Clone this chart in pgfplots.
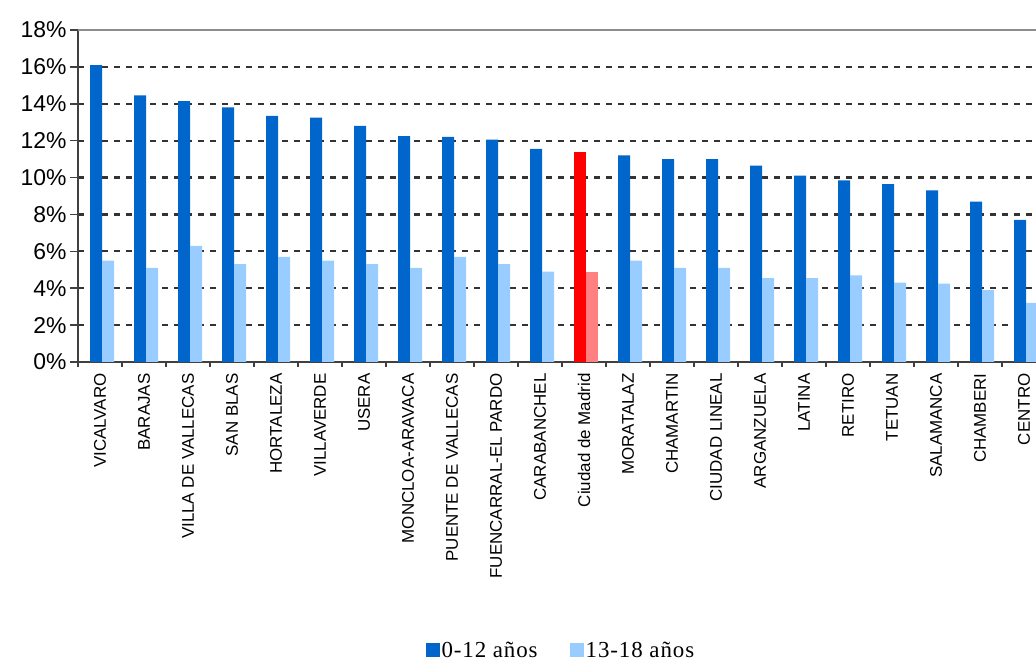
\documentclass[border=0pt]{standalone}
\usepackage{fontspec}
\setmainfont{Liberation Sans}
\newfontfamily\legfont[LetterSpace=4]{Liberation Serif}
\usepackage{pgfplots}
\pgfplotsset{compat=1.18}
\definecolor{dblue}{RGB}{0,102,204}
\definecolor{lblue}{RGB}{153,204,255}
\definecolor{dred}{RGB}{255,0,0}
\definecolor{lred}{RGB}{255,128,128}
\begin{document}
\begin{tikzpicture}[x=1bp,y=1bp]
\path[use as bounding box] (0,0) rectangle (1036,666);
\begin{axis}[at={(78bp,304bp)}, anchor=south west,
  scale only axis, width=958bp, height=332bp,
  xmin=-0.5, xmax=21.27, ymin=0, ymax=18,
  clip=false,
  axis lines*=left,
  axis line style={black!75, line width=1.5bp},
  tick align=outside,
  major tick length=8bp, minor tick length=5bp,
  ytick={0,2,...,16},
  yticklabels={0\%,2\%,4\%,6\%,8\%,10\%,12\%,14\%,16\%},
  extra y ticks={18}, extra y tick labels={18\%},
  extra y tick style={grid=none},
  y tick style={black!75, line width=1.5bp},
  ymajorgrids,
  major grid style={black!80, line width=2.2bp, dash pattern=on 6bp off 6bp},
  xtick={0,...,21},
  xticklabels={VICALVARO,BARAJAS,VILLA DE VALLECAS,SAN BLAS,HORTALEZA,VILLAVERDE,USERA,MONCLOA-ARAVACA,PUENTE DE VALLECAS,FUENCARRAL-EL PARDO,CARABANCHEL,Ciudad de Madrid,MORATALAZ,CHAMARTIN,CIUDAD LINEAL,ARGANZUELA,LATINA,RETIRO,TETUAN,SALAMANCA,CHAMBERI,CENTRO},
  major x tick style={draw=none},
  minor xtick={-0.5,0.5,...,20.5},
  minor x tick style={black!75, line width=1.5bp},
  xticklabel style={rotate=90, anchor=east, font=\fontsize{17}{17}\selectfont},
  yticklabel style={font=\fontsize{23}{23}\selectfont},
  legend style={at={(0.504,-0.868)}, anchor=center, draw=none, fill=none,
    legend columns=2, font=\legfont\fontsize{23}{23}\selectfont,
    inner sep=1bp,
    /tikz/every even column/.append style={column sep=30bp}},
]
\addplot[ybar, bar width=12bp, bar shift=-4bp, fill=dblue, draw=none,
  legend image code/.code={\fill[dblue] (0bp,-7bp) rectangle (14bp,7bp);}]
  coordinates {(0,16.1) (1,14.45) (2,14.15) (3,13.8) (4,13.35) (5,13.25) (6,12.8) (7,12.25) (8,12.2) (9,12.05) (10,11.55) (12,11.2) (13,11.0) (14,11.0) (15,10.65) (16,10.1) (17,9.85) (18,9.65) (19,9.3) (20,8.7) (21,7.7)};
\addlegendentry{0-12 años}
\addplot[ybar, bar width=12bp, bar shift=8bp, fill=lblue, draw=none,
  legend image code/.code={\fill[lblue] (0bp,-7bp) rectangle (14bp,7bp);}]
  coordinates {(0,5.5) (1,5.1) (2,6.3) (3,5.3) (4,5.7) (5,5.5) (6,5.3) (7,5.1) (8,5.7) (9,5.3) (10,4.9) (12,5.5) (13,5.1) (14,5.1) (15,4.55) (16,4.55) (17,4.7) (18,4.3) (19,4.25) (20,3.9) (21,3.2)};
\addlegendentry{13-18 años}
\addplot[ybar, bar width=12bp, bar shift=-4bp, fill=dred, draw=none, forget plot]
  coordinates {(11,11.4)};
\addplot[ybar, bar width=12bp, bar shift=8bp, fill=lred, draw=none, forget plot]
  coordinates {(11,4.9)};
\draw[black!45, line width=1.5bp] (rel axis cs:0,1) -- (rel axis cs:1.01,1);
\end{axis}
\end{tikzpicture}
\end{document}
